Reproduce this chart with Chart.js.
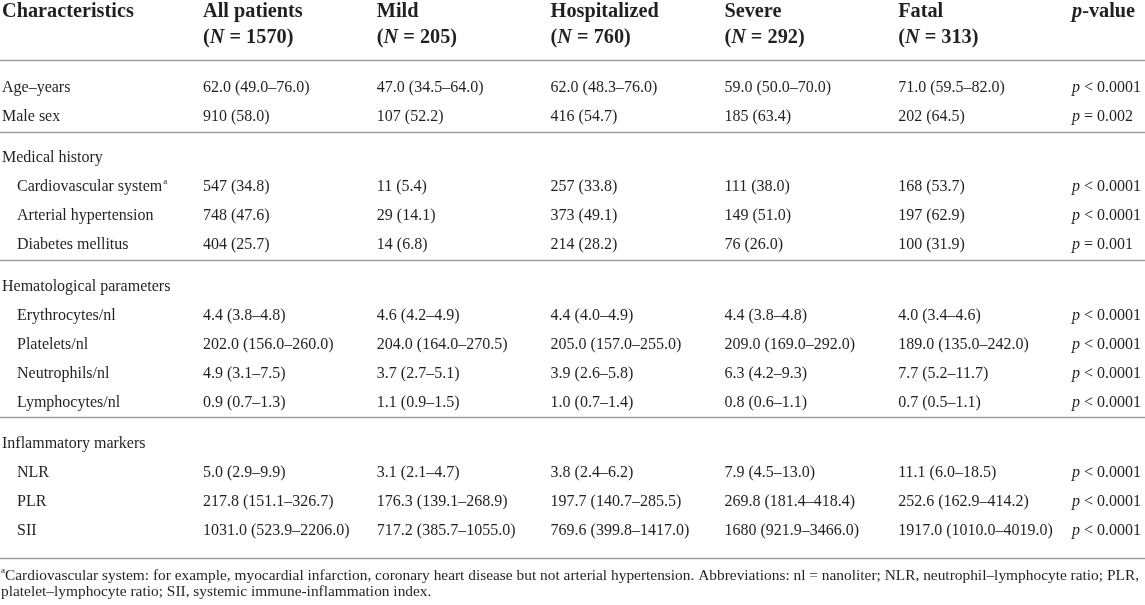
<!DOCTYPE html>
<html>
<head>
<meta charset="utf-8">
<script src="https://cdn.jsdelivr.net/npm/chart.js@4.4.1/dist/chart.umd.min.js"></script>
<style>
  html, body { margin: 0; padding: 0; background: #fff; }
  canvas { display: block; }
</style>
</head>
<body>
<canvas id="table_chart" width="1145" height="605"></canvas>
<script>
// rows of the table (first column)
const characteristics = [
  'Age–years', 'Male sex',
  'Medical history', 'Cardiovascular system', 'Arterial hypertension', 'Diabetes mellitus',
  'Hematological parameters', 'Erythrocytes/nl', 'Platelets/nl', 'Neutrophils/nl', 'Lymphocytes/nl',
  'Inflammatory markers', 'NLR', 'PLR', 'SII'
];
const sectionOf = [0, 0, 1, 1, 1, 1, 2, 2, 2, 2, 2, 3, 3, 3, 3];
const indented  = [0, 0, 0, 1, 1, 1, 0, 1, 1, 1, 1, 0, 1, 1, 1];
const footMark  = ['', '', '', 'a', '', '', '', '', '', '', '', '', '', '', ''];

// column headers
const groupNames = ['All patients', 'Mild', 'Hospitalized', 'Severe', 'Fatal'];
const groupN = ['1570', '205', '760', '292', '313'];

// cell values per group
const allPatients = ['62.0 (49.0–76.0)', '910 (58.0)', null, '547 (34.8)', '748 (47.6)', '404 (25.7)',
  null, '4.4 (3.8–4.8)', '202.0 (156.0–260.0)', '4.9 (3.1–7.5)', '0.9 (0.7–1.3)',
  null, '5.0 (2.9–9.9)', '217.8 (151.1–326.7)', '1031.0 (523.9–2206.0)'];
const mild = ['47.0 (34.5–64.0)', '107 (52.2)', null, '11 (5.4)', '29 (14.1)', '14 (6.8)',
  null, '4.6 (4.2–4.9)', '204.0 (164.0–270.5)', '3.7 (2.7–5.1)', '1.1 (0.9–1.5)',
  null, '3.1 (2.1–4.7)', '176.3 (139.1–268.9)', '717.2 (385.7–1055.0)'];
const hospitalized = ['62.0 (48.3–76.0)', '416 (54.7)', null, '257 (33.8)', '373 (49.1)', '214 (28.2)',
  null, '4.4 (4.0–4.9)', '205.0 (157.0–255.0)', '3.9 (2.6–5.8)', '1.0 (0.7–1.4)',
  null, '3.8 (2.4–6.2)', '197.7 (140.7–285.5)', '769.6 (399.8–1417.0)'];
const severe = ['59.0 (50.0–70.0)', '185 (63.4)', null, '111 (38.0)', '149 (51.0)', '76 (26.0)',
  null, '4.4 (3.8–4.8)', '209.0 (169.0–292.0)', '6.3 (4.2–9.3)', '0.8 (0.6–1.1)',
  null, '7.9 (4.5–13.0)', '269.8 (181.4–418.4)', '1680 (921.9–3466.0)'];
const fatal = ['71.0 (59.5–82.0)', '202 (64.5)', null, '168 (53.7)', '197 (62.9)', '100 (31.9)',
  null, '4.0 (3.4–4.6)', '189.0 (135.0–242.0)', '7.7 (5.2–11.7)', '0.7 (0.5–1.1)',
  null, '11.1 (6.0–18.5)', '252.6 (162.9–414.2)', '1917.0 (1010.0–4019.0)'];
const pValues = ['< 0.0001', '= 0.002', null, '< 0.0001', '< 0.0001', '= 0.001',
  null, '< 0.0001', '< 0.0001', '< 0.0001', '< 0.0001',
  null, '< 0.0001', '< 0.0001', '< 0.0001'];

const footnote = [
  'Cardiovascular system: for example, myocardial infarction, coronary heart disease but not arterial hypertension. Abbreviations: nl = nanoliter; NLR, neutrophil–lymphocyte ratio; PLR,',
  'platelet–lymphocyte ratio; SII, systemic immune-inflammation index.'
];

// layout / style
const FONT = '"Liberation Serif", "DejaVu Serif", serif';
const INK = '#231f20';
const RULE = '#a0a0a0';
const SECTION_GAP = 0.42;
const ROW_PX = 29;
const FIRST_ROW_PX = 88;
const FIRST_COL_PX = 203;
const COL_PX = 173.8;
const W = 1145, H = 605;

const rowPos = characteristics.map((_, i) => i + sectionOf[i] * SECTION_GAP);

function drawRich(ctx, parts, x, y, size, weight) {
  parts.forEach(p => {
    ctx.font = `${p.it ? 'italic ' : ''}${weight} ${size}px ${FONT}`;
    ctx.fillText(p.t, x, y);
    x += ctx.measureText(p.t).width;
  });
  return x;
}

function columnData(values, col) {
  const pts = [];
  values.forEach((v, i) => {
    if (v !== null) pts.push({ x: col, y: rowPos[i], text: v });
  });
  return pts;
}

const columns = [allPatients, mild, hospitalized, severe, fatal, pValues];

const tableText = {
  id: 'tableText',
  afterDatasetsDraw(chart) {
    const { ctx, chartArea, scales: { x, y } } = chart;
    ctx.save();
    ctx.fillStyle = INK;
    ctx.textBaseline = 'middle';
    ctx.textAlign = 'left';

    // horizontal rules
    const last = rowPos.length - 1;
    const rules = [rowPos[0] - 0.97, rowPos[last] + 0.94];
    sectionOf.forEach((s, i) => {
      if (i < last && sectionOf[i + 1] !== s) rules.push(rowPos[i] + 0.5);
    });
    ctx.strokeStyle = RULE;
    ctx.lineWidth = 1.4;
    rules.forEach(v => {
      const py = Math.round(y.getPixelForValue(v)) + 0.5;
      ctx.beginPath();
      ctx.moveTo(chartArea.left, py);
      ctx.lineTo(chartArea.right, py);
      ctx.stroke();
    });

    // header
    const h1 = y.getPixelForValue(rowPos[0] - 2.62);
    const h2 = y.getPixelForValue(rowPos[0] - 1.74);
    const left = chartArea.left + 2;
    drawRich(ctx, [{ t: 'Characteristics' }], left, h1, 20.3, 'bold');
    groupNames.forEach((g, c) => {
      const px = x.getPixelForValue(c);
      drawRich(ctx, [{ t: g }], px, h1, 20.3, 'bold');
      drawRich(ctx, [{ t: '(' }, { t: 'N', it: true }, { t: ' = ' + groupN[c] + ')' }], px, h2, 20.3, 'bold');
    });
    drawRich(ctx, [{ t: 'p', it: true }, { t: '-value' }], x.getPixelForValue(5), h1, 20.3, 'bold');

    // first column
    characteristics.forEach((lab, i) => {
      const py = y.getPixelForValue(rowPos[i]);
      const end = drawRich(ctx, [{ t: lab }], left + indented[i] * 15, py, 16, 'normal');
      if (footMark[i]) drawRich(ctx, [{ t: footMark[i] }], end + 1, py - 6, 9, 'normal');
    });

    // cells, placed by the scatter elements
    chart.data.datasets.forEach((ds, di) => {
      const meta = chart.getDatasetMeta(di);
      meta.data.forEach((pt, k) => {
        const raw = ds.data[k];
        const parts = ds.isP ? [{ t: 'p', it: true }, { t: ' ' + raw.text }] : [{ t: raw.text }];
        drawRich(ctx, parts, pt.x, pt.y, 16, 'normal');
      });
    });

    // footnote
    const f1 = y.getPixelForValue(rowPos[last] + 1.57);
    const f2 = y.getPixelForValue(rowPos[last] + 2.12);
    const e = drawRich(ctx, [{ t: 'a' }], left - 1, f1 - 5, 9, 'normal');
    drawRich(ctx, [{ t: footnote[0] }], e, f1, 15.4, 'normal');
    drawRich(ctx, [{ t: footnote[1] }], left - 1, f2, 15.4, 'normal');
    ctx.restore();
  }
};

const ctx = document.getElementById('table_chart').getContext('2d');
const tableChart = new Chart(ctx, {
  type: 'scatter',
  data: {
    datasets: columns.map((vals, c) => ({
      label: c < 5 ? groupNames[c] : 'p-value',
      data: columnData(vals, c),
      isP: c === 5,
      pointRadius: 0,
      pointHoverRadius: 0,
      showLine: false
    }))
  },
  options: {
    responsive: false,
    animation: false,
    events: [],
    layout: { padding: 0 },
    plugins: { legend: { display: false }, tooltip: { enabled: false } },
    scales: {
      x: {
        type: 'linear', display: false,
        min: -FIRST_COL_PX / COL_PX,
        max: (W - FIRST_COL_PX) / COL_PX
      },
      y: {
        type: 'linear', display: false, reverse: true,
        min: -FIRST_ROW_PX / ROW_PX,
        max: (H - FIRST_ROW_PX) / ROW_PX
      }
    }
  },
  plugins: [tableText]
});
</script>
</body>
</html>
